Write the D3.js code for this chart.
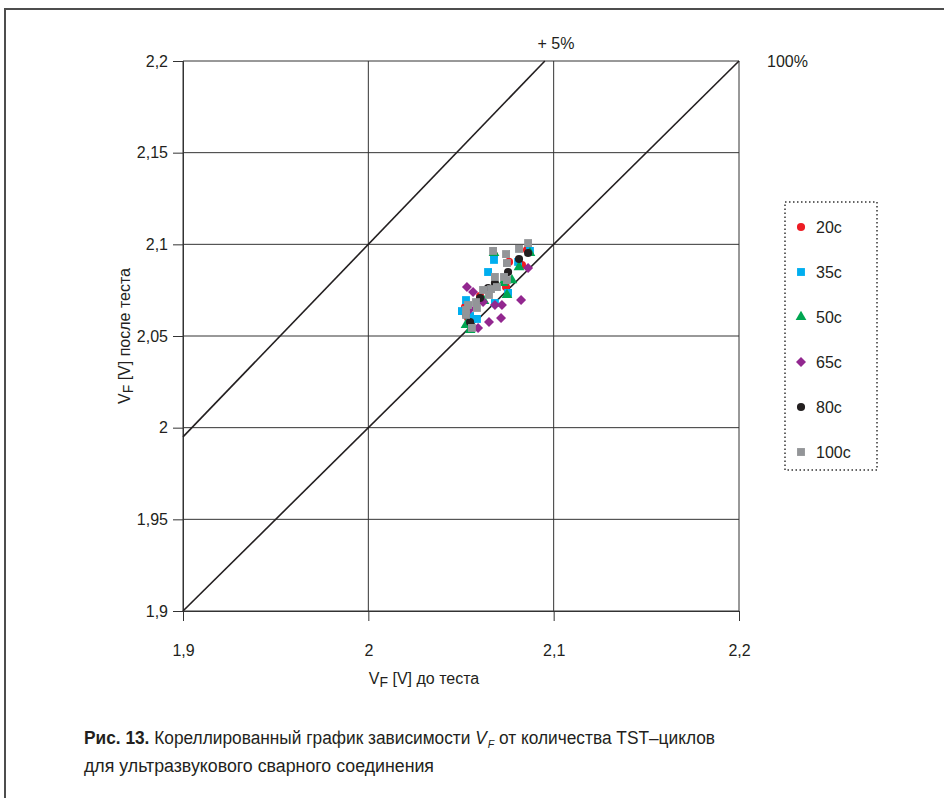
<!DOCTYPE html>
<html>
<head>
<meta charset="utf-8">
<script src="https://cdn.jsdelivr.net/npm/d3@7"></script>
<style>
  body { margin: 0; background: #fff; }
  svg text { font-family: "Liberation Sans", Arial, sans-serif; fill: #231f20; }
</style>
</head>
<body>
<svg id="chart" width="944" height="798"></svg>
<script>
// axis ticks
var xTicks = [1.9, 2, 2.1, 2.2];
var yTicks = [1.9, 1.95, 2, 2.05, 2.1, 2.15, 2.2];

// series names and colors
var seriesNames = ["20c", "35c", "50c", "65c", "80c", "100c"];
var seriesColors = ["#ed1c24", "#00aeef", "#00a651", "#92278f", "#231f20", "#939598"];
var seriesShapes = ["circle", "square", "triangle", "diamond", "circle", "square"];

// [V_F before, V_F after]
var s20 = [[2.0522,2.0658],[2.0759,2.0904],[2.0829,2.0887],[2.0743,2.0767],[2.0678,2.0942],
           [2.0603,2.0718],[2.0538,2.0598],[2.0856,2.0969]];
var s35 = [[2.0527,2.0696],[2.0678,2.0915],[2.0808,2.0904],[2.0646,2.0849],[2.0754,2.0735],
           [2.0586,2.0593],[2.0683,2.0680],[2.0549,2.0609],[2.0872,2.0964],[2.0505,2.0636]];
var s50 = [[2.0872,2.0953],[2.0813,2.0876],[2.0775,2.0805],[2.0748,2.0724],[2.0527,2.0560],
           [2.0678,2.0953],[2.0624,2.0691],[2.0549,2.0533],[2.0727,2.0789]];
var s65 = [[2.0532,2.0767],[2.0565,2.0740],[2.0619,2.0685],[2.0683,2.0669],[2.0721,2.0669],
           [2.0824,2.0696],[2.0651,2.0576],[2.0716,2.0598],[2.0862,2.0871],[2.0592,2.0544],
           [2.0549,2.0647]];
var s80 = [[2.0862,2.0953],[2.0754,2.0849],[2.0646,2.0762],[2.0603,2.0707],[2.0527,2.0615],
           [2.0683,2.0789],[2.0549,2.0576],[2.0813,2.0920]];
var s100 = [[2.0673,2.0964],[2.0862,2.1007],[2.0813,2.0975],[2.0743,2.0947],[2.0748,2.0898],
            [2.0683,2.0822],[2.0732,2.0822],[2.0662,2.0756],[2.0619,2.0751],[2.0694,2.0767],
            [2.0581,2.0685],[2.0538,2.0669],[2.0586,2.0653],[2.0527,2.0642],[2.0527,2.0615],
            [2.0559,2.0544],[2.0651,2.0724],[2.0748,2.0805]];
var allSeries = [s20, s35, s50, s65, s80, s100];

// reference lines: 100% and +5%
var refLines = [
    {label: "100%", factor: 1.00},
    {label: "+ 5%", factor: 1.05}
];

var svg = d3.select("#chart");
var x = d3.scaleLinear().domain([1.9, 2.2]).range([183, 739]);
var y = d3.scaleLinear().domain([1.9, 2.2]).range([611, 61]);
var fmt = function(d) { return String(+d.toFixed(2)).replace(".", ","); };

// outer frame
svg.append("path")
    .attr("d", "M5,798V9H944")
    .attr("fill", "none")
    .attr("stroke", "#4d4d4d")
    .attr("stroke-width", 2);

// gridlines
svg.append("g").selectAll("line")
    .data(yTicks).enter().append("line")
    .attr("x1", x(1.9)).attr("x2", x(2.2))
    .attr("y1", function(d) { return y(d); })
    .attr("y2", function(d) { return y(d); })
    .attr("stroke", "#333").attr("stroke-width", 1);
svg.append("g").selectAll("line")
    .data(xTicks).enter().append("line")
    .attr("y1", y(1.9)).attr("y2", y(2.2))
    .attr("x1", function(d) { return x(d); })
    .attr("x2", function(d) { return x(d); })
    .attr("stroke", "#333").attr("stroke-width", 1);

// axes
var yAxis = svg.append("g")
    .attr("transform", "translate(" + x(1.9) + ",0)")
    .call(d3.axisLeft(y).tickValues(yTicks).tickSize(10).tickPadding(5).tickFormat(fmt));
var xAxis = svg.append("g")
    .attr("transform", "translate(0," + y(1.9) + ")")
    .call(d3.axisBottom(x).tickValues(xTicks).tickSize(10).tickPadding(24).tickFormat(fmt));
[xAxis, yAxis].forEach(function(a) {
    a.select(".domain").attr("stroke", "#333");
    a.selectAll(".tick line").attr("stroke", "#333");
    a.selectAll(".tick text")
        .attr("font-family", "Liberation Sans, Arial, sans-serif")
        .attr("font-size", 16).attr("fill", "#231f20");
});

// 100% and +5% lines
refLines.forEach(function(r) {
    var x2 = Math.min(2.2, 2.2 / r.factor);
    svg.append("line")
        .attr("x1", x(1.9)).attr("y1", y(1.9 * r.factor))
        .attr("x2", x(x2)).attr("y2", y(x2 * r.factor))
        .attr("stroke", "#231f20").attr("stroke-width", 1.6);
});
svg.append("text").attr("x", 767).attr("y", 67).attr("font-size", 16).text(refLines[0].label);
svg.append("text").attr("x", 556).attr("y", 49).attr("font-size", 16)
    .attr("text-anchor", "middle").text(refLines[1].label);

// markers
function shapePath(shape) {
    if (shape === "circle") return d3.symbol().type(d3.symbolCircle).size(52)();
    if (shape === "square") return d3.symbol().type(d3.symbolSquare).size(62)();
    if (shape === "triangle") return d3.symbol().type(d3.symbolTriangle).size(50)();
    return d3.symbol().type(d3.symbolSquare).size(50)();
}
function shapeRotate(shape) { return shape === "diamond" ? " rotate(45)" : ""; }

allSeries.forEach(function(data, i) {
    svg.append("g").attr("class", "series-" + seriesNames[i])
        .selectAll("path").data(data).enter().append("path")
        .attr("d", shapePath(seriesShapes[i]))
        .attr("transform", function(d) {
            return "translate(" + x(d[0]) + "," + y(d[1]) + ")" + shapeRotate(seriesShapes[i]);
        })
        .attr("fill", seriesColors[i]);
});

// legend
var legend = svg.append("g");
legend.append("rect")
    .attr("x", 785).attr("y", 202).attr("width", 92).attr("height", 268)
    .attr("fill", "none").attr("stroke", "#333").attr("stroke-width", 1.5)
    .attr("stroke-dasharray", "1.5,2.5");
var legendItem = legend.selectAll("g.item").data(seriesNames).enter().append("g")
    .attr("class", "item")
    .attr("transform", function(d, i) { return "translate(801," + (227 + i * 45) + ")"; });
legendItem.append("path")
    .attr("d", function(d, i) { return shapePath(seriesShapes[i]); })
    .attr("transform", function(d, i) { return shapeRotate(seriesShapes[i]); })
    .attr("fill", function(d, i) { return seriesColors[i]; });
legendItem.append("text").attr("x", 15).attr("y", 6).attr("font-size", 16)
    .text(function(d) { return d; });

// axis titles
var xTitle = svg.append("text").attr("x", 424).attr("y", 684)
    .attr("text-anchor", "middle").attr("font-size", 16);
xTitle.append("tspan").text("V");
xTitle.append("tspan").attr("font-size", 14).attr("dy", 3).text("F");
xTitle.append("tspan").attr("dy", -3).text(" [V] до теста");

var yTitle = svg.append("text")
    .attr("transform", "translate(130,336) rotate(-90)")
    .attr("text-anchor", "middle").attr("font-size", 16);
yTitle.append("tspan").text("V");
yTitle.append("tspan").attr("font-size", 14).attr("dy", 3).text("F");
yTitle.append("tspan").attr("dy", -3).text(" [V] после теста");

// caption
var cap1 = svg.append("text").attr("x", 84).attr("y", 744)
    .attr("font-family", "Roboto, sans-serif").attr("font-size", 18)
    .attr("textLength", 631).attr("lengthAdjust", "spacingAndGlyphs");
cap1.append("tspan").attr("font-weight", "bold").text("Рис. 13.");
cap1.append("tspan").text(" Кореллированный график зависимости ");
cap1.append("tspan").attr("font-style", "italic").text("V");
cap1.append("tspan").attr("font-style", "italic").attr("font-size", 11)
    .attr("dx", 1).attr("dy", 4).text("F");
cap1.append("tspan").attr("dy", -4).text(" от количества TST–циклов");

svg.append("text").attr("x", 84).attr("y", 772)
    .attr("font-family", "Roboto, sans-serif").attr("font-size", 18)
    .attr("textLength", 350).attr("lengthAdjust", "spacingAndGlyphs")
    .text("для ультразвукового сварного соединения");
</script>
</body>
</html>
